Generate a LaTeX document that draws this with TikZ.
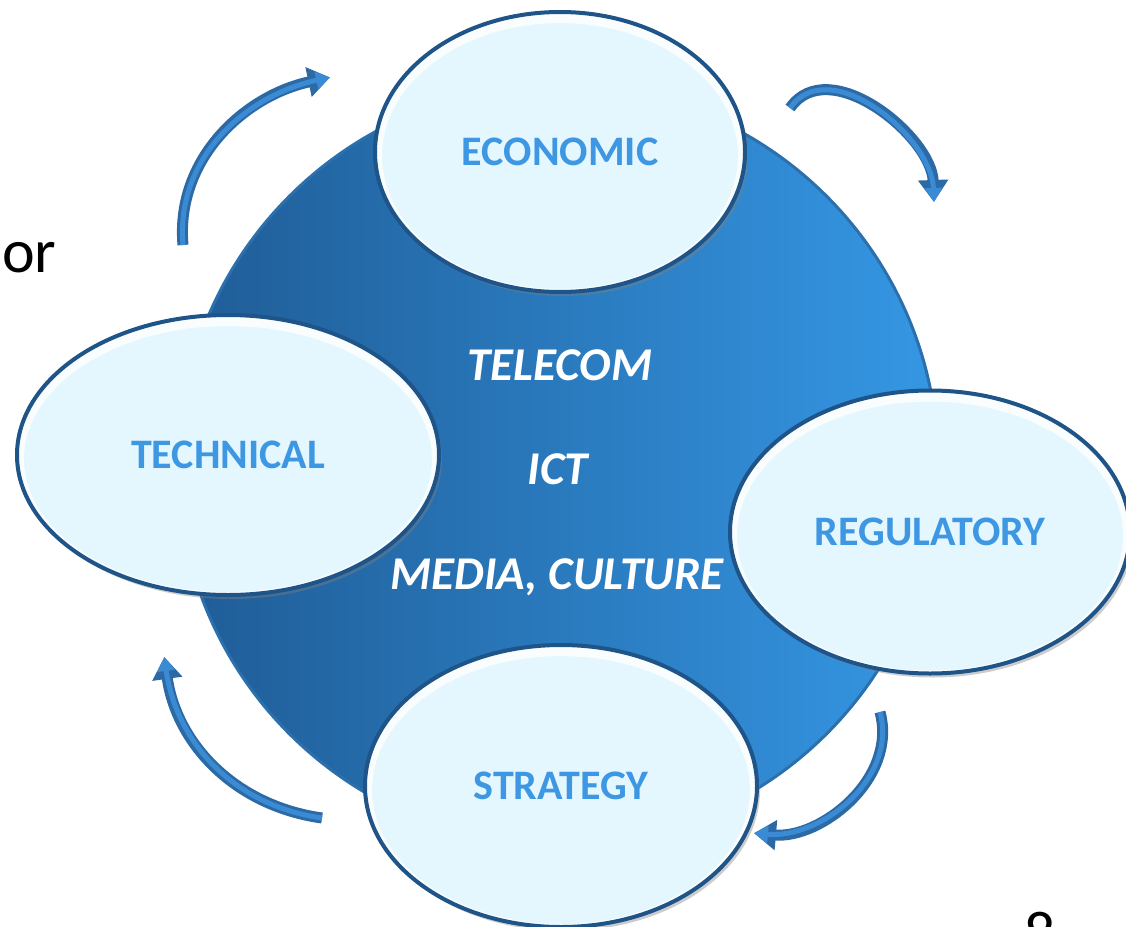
\documentclass[tikz,border=0pt]{standalone}
\usepackage{fontspec}
\setmainfont{Carlito}
\usetikzlibrary{arrows.meta, shapes.geometric, shadows}

\definecolor{hubdark}{HTML}{1F5C96}
\definecolor{hublight}{HTML}{3597E4}
\definecolor{hubedge}{HTML}{2C6FAD}
\definecolor{bubblefill}{HTML}{E4F7FE}
\definecolor{bubbleedge}{HTML}{1F5488}
\definecolor{labelblue}{HTML}{3D97E2}
\definecolor{arrowedge}{HTML}{2C6AA6}
\definecolor{arrowfill}{HTML}{3B8BD4}

\tikzset{
  bubble/.style 2 args={ellipse, minimum width=#1, minimum height=#2, inner sep=0pt,
    fill=bubblefill, draw=bubbleedge, line width=4pt,
    drop shadow={shadow xshift=3pt, shadow yshift=-4pt, opacity=.4},
    text=labelblue, font=\fontsize{42}{50}\selectfont\bfseries,
    text height=27pt, text depth=0pt,
    path picture={\draw[white, line width=14pt, opacity=.85]
      ([yshift=-4pt]path picture bounding box.center) ellipse [x radius=#1/2, y radius=#2/2];}},
  hubtext/.style={text=white, font=\fontsize{47}{56}\selectfont\bfseries\itshape, inner sep=0pt},
  cyclearrow/.style={draw=arrowfill, line width=5pt, shorten >=2pt,
    -{Triangle[length=14pt, width=17pt]},
    preaction={draw=arrowedge, line width=11pt, -{Triangle[length=22pt, width=29pt]}}}
}

\begin{document}
\begin{tikzpicture}[x=1pt, y=1pt]
  \useasboundingbox (0,0) rectangle (1126,-926);
  \clip (0,0) rectangle (1126,-926);

  % slide leftovers
  \node[font=\fontsize{62}{70}\selectfont, inner sep=0pt, anchor=base west] (orword) at (2,-272) {or};
  \node[font=\fontsize{62}{70}\selectfont, inner sep=0pt, anchor=base] (pagenum) at (1040,-954) {8};

  % central disc
  \node[circle, minimum size=760pt, left color=hubdark, right color=hublight,
        draw=hubedge, line width=3pt] (hub) at (558,-465) {};
  \node[hubtext, anchor=base] (telecom) at (560,-380) {TELECOM};
  \node[hubtext, anchor=base] (ict) at (558,-484) {ICT};
  \node[hubtext, anchor=base] (media) at (557,-589) {MEDIA, CULTURE};

  % the four fields
  \node[bubble={370pt}{280pt}] (economic) at (560,-152) {ECONOMIC};
  \node[bubble={422pt}{280pt}] (technical) at (228,-455) {TECHNICAL};
  \node[bubble={400pt}{283pt}] (regulatory) at (930,-532) {REGULATORY};
  \node[bubble={392pt}{282pt}] (strategy) at (561,-786) {STRATEGY};

  % cycle arrows
  \coordinate (tlTail) at (183,-245);
  \coordinate (tlHead) at (332,-77);
  \coordinate (trTail) at (790,-108);
  \coordinate (trHead) at (934,-204);
  \coordinate (brTail) at (880,-712);
  \coordinate (brHead) at (752,-833);
  \coordinate (blTail) at (322,-818);
  \coordinate (blHead) at (164,-655);

  \draw[cyclearrow] (tlTail) to[out=95, in=192] (tlHead);
  \draw[cyclearrow] (trTail) to[out=55, in=92] (trHead);
  \draw[cyclearrow] (brTail) to[out=-75, in=-5] (brHead);
  \draw[cyclearrow] (blTail) to[out=172, in=-82] (blHead);
\end{tikzpicture}
\end{document}
